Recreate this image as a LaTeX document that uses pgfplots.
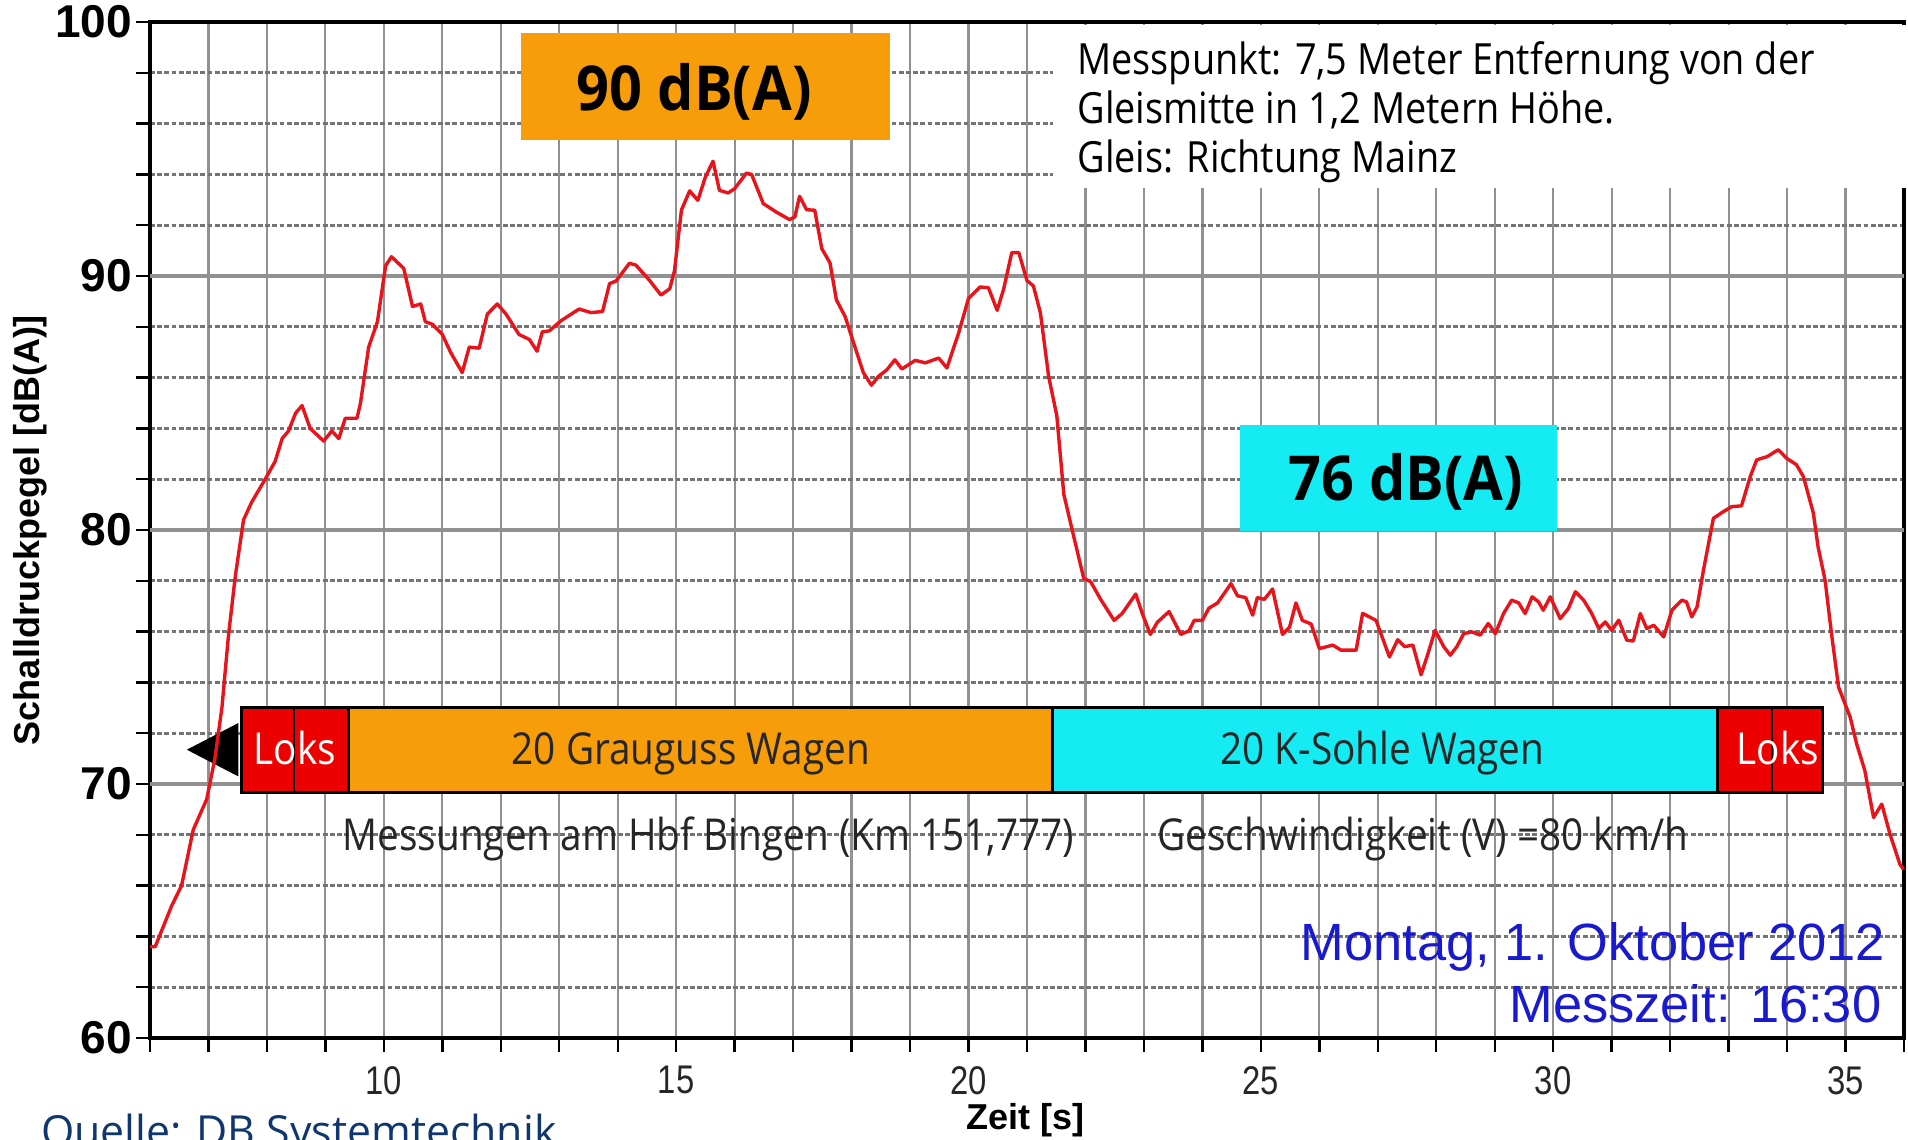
\documentclass[border=0pt]{standalone}
\usepackage{fontspec}
\usepackage{pgfplots}
\pgfplotsset{compat=1.18}
\setmainfont{Liberation Sans}
\newfontfamily\arial{Liberation Sans}
\newfontfamily\arialcond[FakeStretch=0.82]{Liberation Sans}
\newfontfamily\osc[FakeStretch=0.88]{Open Sans}
\newfontfamily\osans{Open Sans}
\newfontfamily\osbold[FakeStretch=0.93]{Open Sans}
\definecolor{curvered}{RGB}{232,20,27}
\definecolor{boxorange}{RGB}{247,157,10}
\definecolor{boxcyan}{RGB}{20,235,242}
\definecolor{lokred}{RGB}{236,0,0}
\definecolor{dateblue}{RGB}{25,25,205}
\definecolor{quelle}{RGB}{15,55,110}
\definecolor{gridgray}{RGB}{145,145,145}
\pgfplotstableread{
x y
6.0 63.6
6.09 63.6
6.37 65.2
6.54 66.0
6.74 68.2
6.97 69.4
7.11 71.0
7.23 73.0
7.34 75.8
7.46 78.2
7.6 80.4
7.74 81.1
7.97 82.0
8.14 82.7
8.26 83.6
8.37 83.9
8.49 84.6
8.6 84.9
8.74 84.0
8.97 83.5
9.11 83.9
9.23 83.6
9.34 84.4
9.54 84.4
9.6 85.0
9.74 87.2
9.89 88.2
10.03 90.4
10.13 90.76
10.34 90.3
10.49 88.8
10.63 88.9
10.71 88.2
10.83 88.1
11.0 87.7
11.14 87.0
11.34 86.2
11.46 87.2
11.63 87.16
11.77 88.5
11.94 88.9
12.09 88.5
12.31 87.7
12.49 87.5
12.62 87.04
12.71 87.8
12.83 87.84
13.03 88.24
13.34 88.7
13.54 88.56
13.74 88.6
13.86 89.7
13.97 89.8
14.2 90.5
14.31 90.43
14.54 89.84
14.74 89.25
14.89 89.5
14.97 90.2
15.09 92.6
15.23 93.35
15.37 92.98
15.5 93.9
15.63 94.52
15.74 93.37
15.89 93.27
16.0 93.44
16.2 94.05
16.29 94.0
16.49 92.85
16.71 92.52
16.94 92.22
17.03 92.33
17.11 93.14
17.23 92.61
17.37 92.59
17.49 91.08
17.63 90.52
17.74 89.06
17.89 88.4
18.03 87.4
18.2 86.2
18.34 85.7
18.46 86.05
18.6 86.3
18.74 86.7
18.86 86.34
19.09 86.68
19.26 86.58
19.49 86.77
19.63 86.38
19.83 87.75
20.0 89.12
20.2 89.57
20.34 89.54
20.49 88.65
20.6 89.48
20.74 90.92
20.86 90.92
21.0 89.82
21.11 89.61
21.23 88.54
21.37 86.05
21.51 84.5
21.63 81.4
21.77 80.03
21.97 78.1
22.09 77.96
22.26 77.27
22.49 76.44
22.63 76.72
22.86 77.48
22.97 76.72
23.11 75.89
23.23 76.37
23.43 76.79
23.63 75.89
23.77 76.03
23.86 76.44
24.0 76.44
24.11 76.92
24.26 77.13
24.49 77.89
24.6 77.41
24.74 77.34
24.86 76.65
24.94 77.34
25.06 77.27
25.2 77.68
25.37 75.89
25.49 76.17
25.6 77.13
25.71 76.44
25.86 76.3
26.0 75.33
26.23 75.47
26.37 75.27
26.63 75.27
26.74 76.72
26.97 76.44
27.2 75.0
27.34 75.68
27.46 75.41
27.6 75.47
27.74 74.3
27.84 75.0
27.98 76.05
28.13 75.4
28.24 75.07
28.35 75.4
28.47 75.92
28.61 75.99
28.75 75.86
28.89 76.32
29.01 75.92
29.15 76.71
29.29 77.24
29.41 77.13
29.52 76.71
29.64 77.37
29.75 77.17
29.83 76.84
29.95 77.37
30.12 76.51
30.26 76.91
30.38 77.57
30.52 77.24
30.66 76.71
30.78 76.12
30.89 76.38
31.0 76.05
31.12 76.45
31.26 75.66
31.37 75.63
31.49 76.71
31.6 76.12
31.72 76.25
31.89 75.79
32.03 76.84
32.2 77.24
32.28 77.17
32.37 76.58
32.46 76.97
32.57 78.42
32.74 80.46
32.91 80.72
33.05 80.92
33.22 80.95
33.37 82.1
33.48 82.76
33.66 82.89
33.85 83.16
33.99 82.83
34.16 82.57
34.28 82.1
34.45 80.66
34.53 79.34
34.65 78.03
34.76 75.92
34.88 73.82
35.08 72.63
35.19 71.58
35.33 70.53
35.48 68.68
35.62 69.21
35.76 68.03
35.93 66.84
35.99 66.64
}\pegel
\begin{document}
\begin{tikzpicture}
\useasboundingbox (0,0) rectangle (477pt,284.75pt);
\begin{axis}[
  at={(37.5pt,25.25pt)}, anchor=south west,
  scale only axis, width=438.5pt, height=254pt,
  xmin=6, xmax=36, ymin=60, ymax=100,
  clip=false,
  axis line style={black, line width=1pt},
  xtick={6,...,36},
  xticklabels={,,,,10,,,,,15,,,,,20,,,,,25,,,,,30,,,,,35,},
  ytick={60,62,...,100},
  yticklabels={60,,,,,70,,,,,80,,,,,90,,,,,100},
  tick pos=left, tick align=outside, major tick length=3.5pt,
  tick style={black, line width=0.6pt},
  grid=major,
  x grid style={gridgray, line width=0.55pt},
  y grid style={gridgray!80!black, line width=0.8pt, dash pattern=on 1.2pt off 0.6pt},
  xticklabel style={font=\fontsize{10}{11}\selectfont\arialcond, text=black!85},
  yticklabel style={font=\fontsize{11.5}{12}\selectfont\arial\bfseries, xshift=2.5pt},
]
\addplot[gridgray, line width=0.9pt, forget plot] coordinates {(6,70) (36,70)};
\addplot[gridgray, line width=0.9pt, forget plot] coordinates {(6,80) (36,80)};
\addplot[gridgray, line width=0.9pt, forget plot] coordinates {(6,90) (36,90)};
% arrow
\fill[black] (axis cs:6.63,71.35) -- (axis cs:7.51,72.4) -- (axis cs:7.51,70.3) -- cycle;
% curve
\addplot[curvered, line width=0.85pt, line join=round] table[x=x,y=y] {\pegel};
% info box
\fill[white] (axis cs:21.45,93.45) rectangle (axis cs:36.15,99.88);
\node[anchor=base west, inner sep=0, font=\fontsize{10.75}{12}\selectfont\osc] at (axis cs:21.85,97.92) {Messpunkt: 7,5 Meter Entfernung von der};
\node[anchor=base west, inner sep=0, font=\fontsize{10.75}{12}\selectfont\osc] at (axis cs:21.85,96.0) {Gleismitte in 1,2 Metern Höhe.};
\node[anchor=base west, inner sep=0, font=\fontsize{10.75}{12}\selectfont\osc] at (axis cs:21.85,94.09) {Gleis: Richtung Mainz};
% level boxes
\fill[boxorange] (axis cs:12.35,95.35) rectangle (axis cs:18.65,99.57);
\node[anchor=base, font=\fontsize{15.5}{16}\selectfont\osbold\bfseries] at (axis cs:15.31,96.5) {90 dB(A)};
\fill[boxcyan] (axis cs:24.64,79.95) rectangle (axis cs:30.06,84.12);
\node[anchor=base, font=\fontsize{15.5}{16}\selectfont\osbold\bfseries] at (axis cs:27.48,81.17) {76 dB(A)};
% train bar
\draw[line width=0.8pt, fill=lokred] (axis cs:7.56,69.65) rectangle (axis cs:9.4,73.0);
\draw[line width=0.5pt] (axis cs:8.46,69.65) -- (axis cs:8.46,73.0);
\draw[line width=0.8pt, fill=boxorange] (axis cs:9.4,69.65) rectangle (axis cs:21.44,73.0);
\draw[line width=0.8pt, fill=boxcyan] (axis cs:21.44,69.65) rectangle (axis cs:32.81,73.0);
\draw[line width=0.8pt, fill=lokred] (axis cs:32.81,69.65) rectangle (axis cs:34.61,73.0);
\draw[line width=0.5pt] (axis cs:33.75,69.65) -- (axis cs:33.75,73.0);
\node[anchor=base, text=white, font=\fontsize{11}{12}\selectfont\osc] at (axis cs:8.48,70.75) {Loks};
\node[anchor=base, text=white, font=\fontsize{11}{12}\selectfont\osc] at (axis cs:33.84,70.75) {Loks};
\node[anchor=base, text=black!85, font=\fontsize{11}{12}\selectfont\osc] at (axis cs:15.25,70.78) {20 Grauguss Wagen};
\node[anchor=base, text=black!85, font=\fontsize{11}{12}\selectfont\osc] at (axis cs:27.08,70.78) {20 K-Sohle Wagen};
\node[anchor=base, text=black!85, font=\fontsize{11}{12}\selectfont\osc] at (axis cs:15.55,67.38) {Messungen am Hbf Bingen (Km 151,777)};
\node[anchor=base, text=black!85, font=\fontsize{11}{12}\selectfont\osc] at (axis cs:27.77,67.38) {Geschwindigkeit (V) =80 km/h};
% date
\node[anchor=base east, inner sep=0, text=dateblue, font=\fontsize{13.1}{14}\selectfont\arial] at (axis cs:35.69,63.07) {Montag, 1. Oktober 2012};
\node[anchor=base east, inner sep=0, text=dateblue, font=\fontsize{13.1}{14}\selectfont\arial] at (axis cs:35.625,60.62) {Messzeit: 16:30};
% axis labels
\node[rotate=90, font=\fontsize{9}{10}\selectfont\arial\bfseries] at (axis cs:3.95,80) {Schalldruckpegel [dB(A)]};
\node[anchor=base, font=\fontsize{9}{10}\selectfont\arial\bfseries] at (axis cs:20.98,56.41) {Zeit [s]};
\node[anchor=base west, inner sep=0, text=quelle, font=\fontsize{10.7}{12}\selectfont\osans] at (axis cs:4.125,55.73) {Quelle: DB Systemtechnik};
\end{axis}
\end{tikzpicture}
\end{document}
